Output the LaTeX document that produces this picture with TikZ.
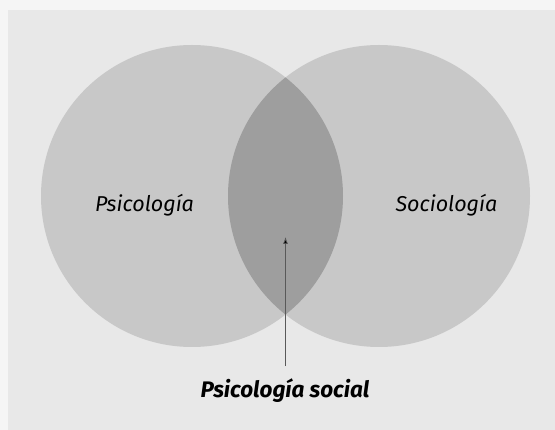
\documentclass[tikz,border=0pt]{standalone}
\usepackage{fontspec}
\setmainfont{Fira Sans}
\usetikzlibrary{arrows.meta}

\definecolor{margingray}{gray}{0.96}
\definecolor{pagegray}{gray}{0.91}
\definecolor{circlegray}{gray}{0.785}
\definecolor{lensgray}{gray}{0.62}

\begin{document}
\begin{tikzpicture}[x=1pt, y=-1pt,
    field/.style={font=\fontsize{21.5}{25}\selectfont\itshape, inner sep=0pt},
    overlap/.style={font=\fontsize{22.5}{26}\selectfont\bfseries\itshape, inner sep=0pt},
    pointer/.style={draw=black!65, line width=0.7pt, -{Latex[length=7pt,width=5pt,fill=black]}}]
  % Page
  \fill[margingray] (0,0) rectangle (555,430);
  \fill[pagegray] (8,10) rectangle (555,430);
  \useasboundingbox (0,0) rectangle (555,430);

  % Circles
  \fill[circlegray] (192,196) circle (151pt);
  \fill[circlegray] (379,196) circle (151pt);

  % Intersection
  \begin{scope}
    \clip (192,196) circle (151pt);
    \fill[lensgray] (379,196) circle (151pt);
  \end{scope}

  % Labels
  \node[field, anchor=base] (psico) at (144.5,212) {Psicología};
  \node[field, anchor=base] (socio) at (446.5,212) {Sociología};
  \node[overlap, anchor=base] (social) at (285,398) {Psicología social};

  % Arrow
  \coordinate (tip) at (285.5,237);
  \coordinate (tail) at ([yshift=13pt]social.north -| tip);
  \draw[pointer] (tail) -- (tip);
\end{tikzpicture}
\end{document}
